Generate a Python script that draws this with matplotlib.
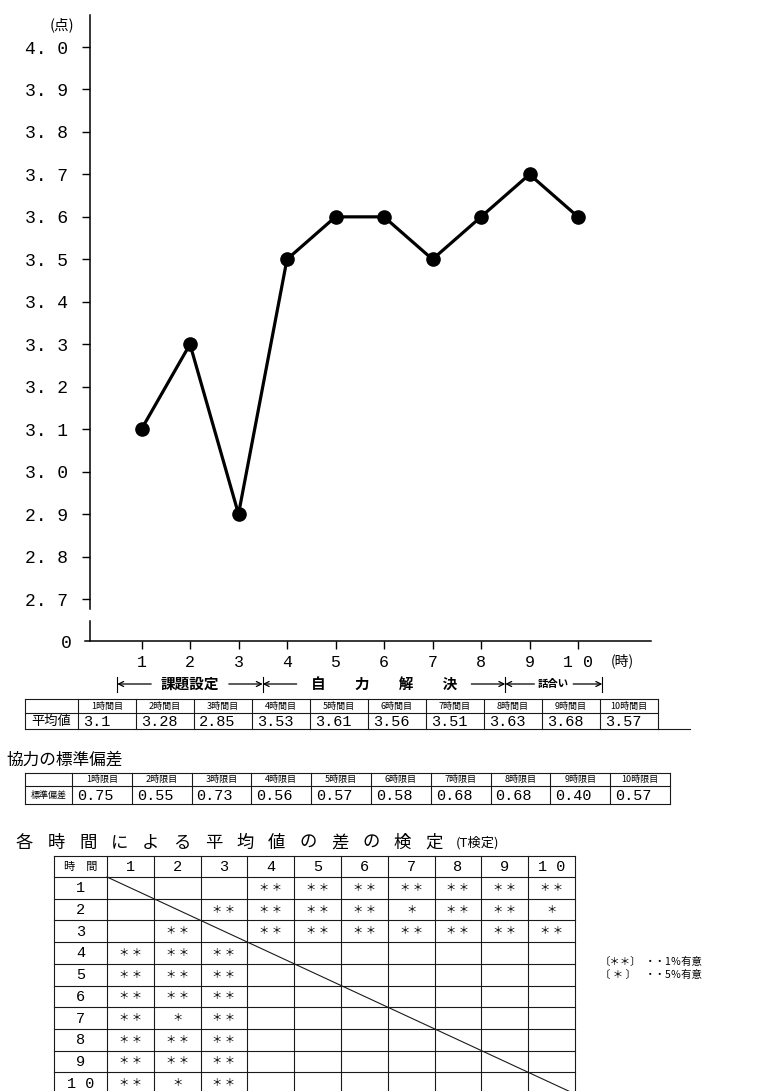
import matplotlib
matplotlib.use("Agg")
import matplotlib.pyplot as plt
from matplotlib.transforms import blended_transform_factory

# ---------------- data ----------------
periods = [1, 2, 3, 4, 5, 6, 7, 8, 9, 10]
period_labels = ["1", "2", "3", "4", "5", "6", "7", "8", "9", "1 0"]
plot_values = [3.1, 3.3, 2.9, 3.5, 3.6, 3.6, 3.5, 3.6, 3.7, 3.6]
y_ticks = [2.7, 2.8, 2.9, 3.0, 3.1, 3.2, 3.3, 3.4, 3.5, 3.6, 3.7, 3.8, 3.9, 4.0]
y_tick_labels = ["2. 7", "2. 8", "2. 9", "3. 0", "3. 1", "3. 2", "3. 3",
                 "3. 4", "3. 5", "3. 6", "3. 7", "3. 8", "3. 9", "4. 0"]
y_unit = "(点)"
x_unit = "(時)"
phase_names = ["課題設定", "自　　力　　解　　決", "話合い"]
phase_bounds = [0.5, 3.5, 8.5, 10.5]

mean_row_label = "平均値"
mean_headers = ["1時間目", "2時間目", "3時間目", "4時間目", "5時間目",
                "6時間目", "7時間目", "8時間目", "9時間目", "10時間目"]
mean_values = [3.1, 3.28, 2.85, 3.53, 3.61, 3.56, 3.51, 3.63, 3.68, 3.57]

sd_title = "協力の標準偏差"
sd_row_label = "標準偏差"
sd_headers = ["1時限目", "2時限目", "3時限目", "4時限目", "5時限目",
              "6時限目", "7時限目", "8時限目", "9時限目", "10時限目"]
sd_values = [0.75, 0.55, 0.73, 0.56, 0.57, 0.58, 0.68, 0.68, 0.40, 0.57]

test_title = "各時間による平均値の差の検定"
test_title_note = "(T検定)"
test_corner = "時　間"
test_labels = ["1", "2", "3", "4", "5", "6", "7", "8", "9", "1 0"]
test_marks = [
    ["", "", "", "**", "**", "**", "**", "**", "**", "**"],
    ["", "", "**", "**", "**", "**", "*", "**", "**", "*"],
    ["", "**", "", "**", "**", "**", "**", "**", "**", "**"],
    ["**", "**", "**", "", "", "", "", "", "", ""],
    ["**", "**", "**", "", "", "", "", "", "", ""],
    ["**", "**", "**", "", "", "", "", "", "", ""],
    ["**", "*", "**", "", "", "", "", "", "", ""],
    ["**", "**", "**", "", "", "", "", "", "", ""],
    ["**", "**", "**", "", "", "", "", "", "", ""],
    ["**", "*", "**", "", "", "", "", "", "", ""],
]
mark_glyph = {"**": "＊ ＊", "*": "＊", "": ""}
legend_marks = ["〔＊＊〕", "〔 ＊ 〕"]
legend_texts = ["・・1％有意", "・・5％有意"]

# ---------------- figure ----------------
W, H, DPI = 765, 1091, 100
CJK = ["Noto Sans CJK JP", "DejaVu Sans"]
MONO = ["Liberation Mono", "DejaVu Sans Mono"]
plt.rcParams["font.family"] = CJK

fig = plt.figure(figsize=(W / DPI, H / DPI), dpi=DPI)


def frac_rect(x0, y0, x1, y1):
    return [x0 / W, 1 - y1 / H, (x1 - x0) / W, (y1 - y0) / H]


XL, XR = 85, 651
xlim = (-0.165, 11.505)
yspine_x = -0.062

# upper (broken) axis
ax = fig.add_axes(frac_rect(XL, 15, XR, 609))
ax.set_xlim(*xlim)
px_per_unit = (599 - 47) / 1.3
ax.set_ylim(2.7 - 10 / px_per_unit, 4.0 + 32 / px_per_unit)
for s in ["top", "right", "bottom"]:
    ax.spines[s].set_visible(False)
ax.spines["left"].set_position(("data", yspine_x))
ax.spines["left"].set_linewidth(1.1)
ax.set_xticks([])
ax.set_yticks(y_ticks)
ax.set_yticklabels(y_tick_labels, family=MONO, fontsize=13)
ax.tick_params(axis="y", direction="out", length=6, width=1.0, pad=10)
ax.patch.set_alpha(0)
ax.plot(periods, plot_values, color="black", lw=2.3, marker="o",
        markersize=9.5, clip_on=False, zorder=3)

# lower axis segment with zero
axb = fig.add_axes(frac_rect(XL, 621, XR, 641))
axb.set_xlim(*xlim)
axb.set_ylim(0, 1)
for s in ["top", "right"]:
    axb.spines[s].set_visible(False)
axb.spines["left"].set_position(("data", yspine_x))
axb.spines["left"].set_linewidth(1.1)
axb.spines["bottom"].set_linewidth(1.1)
axb.patch.set_alpha(0)
axb.set_yticks([0])
axb.set_yticklabels(["0"], family=MONO, fontsize=13)
axb.tick_params(axis="y", length=0, pad=13)
axb.set_xticks(periods)
axb.set_xticklabels(period_labels, family=MONO, fontsize=12)
axb.tick_params(axis="x", direction="out", length=6, width=1.0, pad=4)

# overlay in pixel coordinates
ov = fig.add_axes([0, 0, 1, 1])
ov.set_xlim(0, W)
ov.set_ylim(H, 0)
ov.axis("off")
ov.patch.set_alpha(0)

ov.text(62, 25, y_unit, ha="center", va="center", fontsize=10.5)
ov.text(622, 661, x_unit, ha="center", va="center", fontsize=10)

# phase labels
tr = blended_transform_factory(axb.transData, ov.transData)
py = 684
for b in phase_bounds:
    ov.plot([b, b], [677, 692], color="black", lw=0.8, transform=tr)
for name, a, b in zip(phase_names, phase_bounds[:-1], phase_bounds[1:]):
    alen = 0.7 if (b - a) > 2 else 0.6
    ov.annotate("", xy=(a, py), xytext=(a + alen, py), xycoords=tr, textcoords=tr,
                arrowprops=dict(arrowstyle="->", lw=0.9, shrinkA=0, shrinkB=0,
                                mutation_scale=9))
    ov.annotate("", xy=(b, py), xytext=(b - alen, py), xycoords=tr, textcoords=tr,
                arrowprops=dict(arrowstyle="->", lw=0.9, shrinkA=0, shrinkB=0,
                                mutation_scale=9))
    fs = 10.5 if (b - a) > 2 else 7.5
    ov.text((a + b) / 2, py, name, transform=tr, ha="center", va="center",
            fontsize=fs, fontweight="bold")

LW = 0.8
LC = "#1a1a1a"


def draw_table(left, first_w, col_w, top, mid, bottom, headers, row_label,
               values, fmt, label_fs, extend_to=None):
    n = len(headers)
    right = first_w + left + n * col_w
    xs = [left, left + first_w] + [left + first_w + (i + 1) * col_w for i in range(n)]
    for y in (top, mid, bottom):
        ov.plot([left, right], [y, y], color=LC, lw=LW)
    if extend_to:
        ov.plot([right, extend_to], [bottom, bottom], color=LC, lw=LW)
    for x in xs:
        ov.plot([x, x], [top, bottom], color=LC, lw=LW)
    ov.text(left + first_w / 2, (mid + bottom) / 2, row_label, ha="center",
            va="center", fontsize=label_fs)
    for i, (h, v) in enumerate(zip(headers, values)):
        x0 = left + first_w + i * col_w
        ov.text(x0 + col_w / 2, (top + mid) / 2, h, ha="center", va="center",
                fontsize=6.5)
        ov.text(x0 + 5, (mid + bottom) / 2 + 0.5, fmt(v), ha="left", va="center",
                family=MONO, fontsize=11)


draw_table(25, 53, 58, 699, 713, 729, mean_headers, mean_row_label,
           mean_values, lambda v: f"{v:g}", 9.5, extend_to=690)

ov.text(6, 760, sd_title, ha="left", va="center", fontsize=12)
draw_table(25, 47, 59.8, 773, 786, 804, sd_headers, sd_row_label,
           sd_values, lambda v: f"{v:.2f}", 6.5)

# significance matrix
for i, ch in enumerate(test_title):
    ov.text(16 + i * 31.5, 843, ch, ha="left", va="center", fontsize=12.5)
ov.text(456, 843, test_title_note, ha="left", va="center", fontsize=9.5)

m_left, m_first, m_col = 54, 53, 46.8
m_top, m_head, m_row = 856, 21, 21.7
n = len(test_labels)
m_right = m_left + m_first + n * m_col
row_lines = [m_top, m_top + m_head] + [m_top + m_head + (k + 1) * m_row for k in range(n)]
col_lines = [m_left, m_left + m_first] + [m_left + m_first + (k + 1) * m_col for k in range(n)]
for y in row_lines:
    ov.plot([m_left, m_right], [y, y], color=LC, lw=LW, clip_on=True)
for x in col_lines:
    ov.plot([x, x], [m_top, row_lines[-1]], color=LC, lw=LW)
ov.plot([m_left + m_first, m_right], [m_top + m_head, row_lines[-1]], color=LC, lw=LW)

ov.text(m_left + m_first / 2, m_top + m_head / 2, test_corner, ha="center",
        va="center", fontsize=8)
for k, lab in enumerate(test_labels):
    cx = m_left + m_first + (k + 0.5) * m_col
    ov.text(cx, m_top + m_head / 2 + 0.5, lab, ha="center", va="center",
            family=MONO, fontsize=11)
    cy = m_top + m_head + (k + 0.5) * m_row
    ov.text(m_left + m_first / 2, cy + 0.5, lab, ha="center", va="center",
            family=MONO, fontsize=11)
for r, row in enumerate(test_marks):
    cy = m_top + m_head + (r + 0.5) * m_row
    for c, mk in enumerate(row):
        if mk:
            cx = m_left + m_first + (c + 0.5) * m_col
            ov.text(cx, cy, mark_glyph[mk], ha="center", va="center", fontsize=7.5)

for k, (mk, tx) in enumerate(zip(legend_marks, legend_texts)):
    y = 962 + k * 13
    ov.text(600, y, mk, ha="left", va="center", fontsize=7.5)
    ov.text(645, y, tx, ha="left", va="center", fontsize=7.5)

fig.savefig("out.png", dpi=DPI)
